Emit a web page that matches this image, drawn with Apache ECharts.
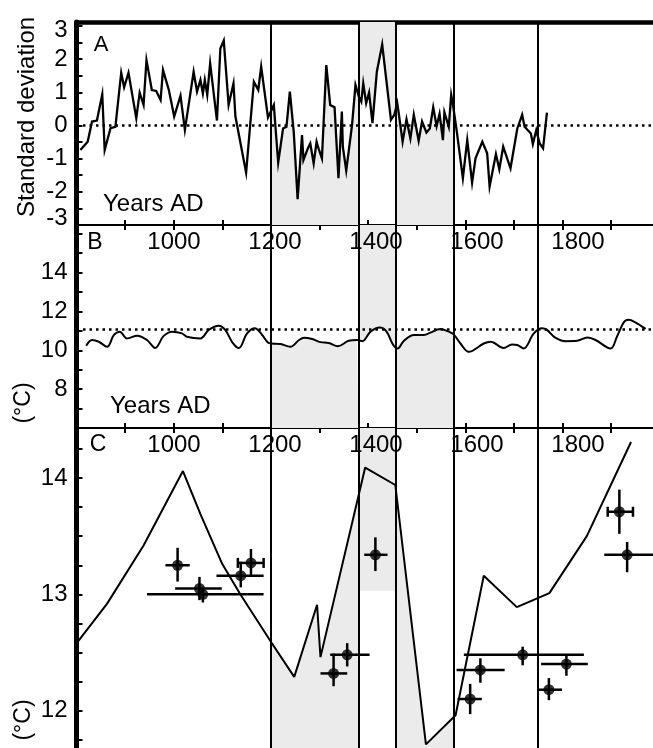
<!DOCTYPE html>
<html><head><meta charset="utf-8">
<script src="https://cdn.jsdelivr.net/npm/echarts@6/dist/echarts.min.js"></script>
<style>html,body{margin:0;padding:0;background:#fff}#c{width:653px;height:748px}</style>
</head><body><div id="c"></div>
<script>
// ---- Panel A: standard deviation series ----
const aYears = [808,823,832,842,853,858,870,880,892,898,907,923,930,938,944,955,964,973,978,990,1001,1014,1023,1041,1048,1055,1060,1064,1069,1075,1089,1096,1103,1113,1123,1127,1149,1165,1174,1180,1194,1206,1215,1225,1232,1239,1247,1255,1264,1267,1276,1281,1288,1294,1298,1305,1314,1322,1331,1339,1346,1348,1355,1367,1374,1381,1386,1390,1396,1402,1409,1418,1429,1447,1454,1460,1463,1471,1479,1487,1494,1504,1511,1520,1527,1534,1541,1547,1554,1557,1566,1571,1575,1583,1595,1604,1614,1621,1635,1645,1650,1663,1670,1678,1693,1707,1717,1722,1735,1739,1746,1753,1760,1768];
const aValues = [-0.74,-0.49,0.12,0.15,0.94,-0.74,-0.08,-0.04,1.59,1.15,1.59,0.22,0.99,0.62,1.97,1.07,1.04,0.77,1.67,1.07,0.27,0.9,-0.13,1.62,1.02,1.37,0.97,1.37,0.92,1.87,0.15,2.32,2.56,0.62,1.27,0.27,-1.42,1.32,1.07,1.77,0.24,0.62,-1.12,-0.09,-0.04,1.02,-0.19,-2.22,-0.29,-1.04,-0.69,-0.54,-1.14,-0.49,-0.69,-0.99,1.82,0.62,0.55,-1.59,0.42,-0.64,-1.36,0.02,1.22,0.87,0.72,1.27,0.67,0.99,0.07,1.62,2.44,0.17,0.32,0.67,0.37,-0.49,0.19,-0.39,0.32,-0.46,0.12,-0.21,-0.09,0.55,-0.02,0.35,-0.44,0.40,-0.04,0.92,0.59,-0.24,-1.59,-0.44,-1.72,-0.99,-0.49,-0.84,-1.84,-0.86,-1.32,-0.64,-1.29,-0.09,0.32,-0.04,-0.24,-0.56,-0.14,-0.54,-0.69,0.39];
const aReference = 0;

// ---- Panel B: temperature (smoothed) ----
const bYears = [820,832,846,863,877,889,904,925,945,962,979,997,1017,1027,1055,1072,1093,1106,1121,1134,1151,1167,1182,1194,1202,1220,1240,1258,1268,1285,1302,1319,1338,1360,1377,1388,1405,1424,1438,1451,1461,1473,1494,1515,1528,1549,1566,1576,1590,1607,1638,1652,1679,1696,1707,1720,1741,1758,1768,1785,1806,1830,1851,1868,1899,1912,1926,1936,1950,1971];
const bValues = [10.23,10.53,10.44,10.18,10.79,10.96,10.61,10.75,10.53,10.12,10.73,10.96,10.87,10.70,10.61,11.05,11.27,11.05,10.40,10.12,10.87,11.13,10.79,10.40,10.35,10.32,10.18,10.53,10.65,10.58,10.42,10.38,10.21,10.49,10.53,10.47,10.96,11.17,10.96,10.30,10.09,10.47,10.79,10.79,10.91,11.10,10.96,10.82,10.35,9.92,10.35,10.44,10.12,10.30,10.27,10.09,10.87,11.13,11.05,10.65,10.47,10.49,10.66,10.53,10.09,10.70,11.44,11.57,11.44,11.10];
const bReference = 11.1;

// ---- Panel C: temperature model line ----
const cYears = [804,863,938,1019,1055,1100,1137,1202,1248,1295,1302,1394,1456,1519,1580,1638,1706,1773,1850,1941];
const cValues = [12.60,12.92,13.42,14.06,13.69,13.26,13.00,12.58,12.29,12.91,12.46,14.09,13.94,11.71,11.96,13.16,12.89,13.01,13.50,14.31];

// ---- Panel C: proxy points with error bars ----
const ptYear   = [1008,1053,1060,1138,1159,1329,1357,1415,1610,1631,1718,1772,1808,1917,1933];
const ptTemp   = [13.25,13.05,13.00,13.16,13.27,12.32,12.48,13.34,12.10,12.35,12.48,12.18,12.40,13.71,13.34];
const ptTempLo = [13.11,12.95,12.93,13.06,13.16,12.21,12.38,13.20,11.97,12.24,12.39,12.09,12.30,13.52,13.19];
const ptTempHi = [13.40,13.15,13.05,13.28,13.39,12.49,12.58,13.49,12.23,12.45,12.55,12.28,12.48,13.90,13.45];
const ptYearLo = [983,1003,945,1088,1132,1302,1322,1392,1584,1582,1597,1749,1756,1893,1886];
const ptYearHi = [1033,1099,1185,1185,1185,1357,1403,1440,1634,1681,1844,1799,1852,1945,1995];
const ptCap    = [0,0,0,0,1,0,0,0,0,0,0,0,0,1,0];

// ---- period boundaries and shading ----
const boundaries = [1200,1380,1457,1576,1750];
const belowSpans = [[1200,1380],[1457,1576]];
const aboveSpans = [[1380,1457]];
const cAboveFloor = 13.03;   // panel C: grey band in the middle period reaches down to here

// ---- tick labels ----
const xTickLabels = [1000,1200,1400,1600,1800];
const aTickLabels = [-3,-2,-1,0,1,2,3];
const bTickLabels = [8,10,12,14];
const cTickLabels = [12,13,14];

const FONT = "'Liberation Sans', Arial, Helvetica, sans-serif";
const GREY = '#ebebeb';
const X_MIN = 800, X_MAX = 2000;

function interp(xs, ys, x){
  for (let i = 0; i < xs.length - 1; i++) {
    if (x >= xs[i] && x <= xs[i+1]) {
      const t = (x - xs[i]) / (xs[i+1] - xs[i]);
      return ys[i] + t * (ys[i+1] - ys[i]);
    }
  }
  return x < xs[0] ? ys[0] : ys[ys.length-1];
}
function clip(xs, ys, a, b){
  const out = [[a, interp(xs, ys, a)]];
  xs.forEach((x, i) => { if (x > a && x < b) out.push([x, ys[i]]); });
  out.push([b, interp(xs, ys, b)]);
  return out;
}
function shade(xi, yi, xs, ys, span, origin){
  return {type:'line', xAxisIndex:xi, yAxisIndex:yi, data:clip(xs, ys, span[0], span[1]),
    symbol:'none', silent:true, z:1, lineStyle:{width:0, opacity:0},
    areaStyle:{color:GREY, opacity:1, origin:origin}};
}
function near(v, list){ return list.some(t => Math.abs(t - v) < 1e-6); }

function xAx(grid, pos, o){
  return Object.assign({type:'value', gridIndex:grid, position:pos, min:X_MIN, max:X_MAX, interval:100,
    splitLine:{show:false},
    axisLine:{show:true, onZero:false, lineStyle:{color:'#000', width:2}},
    axisTick:{show:true, inside:true, length:5, lineStyle:{color:'#000', width:2}},
    axisLabel:{show:false}}, o || {});
}
function labelAx(grid){
  return xAx(grid, 'top', {z:3, axisLine:{show:false, onZero:false}, axisTick:{show:false},
    axisLabel:{show:true, inside:true, margin:5, fontSize:24, fontFamily:FONT, color:'#000',
      formatter: v => near(v, xTickLabels) ? String(Math.round(v)) : ''}});
}
function yAx(grid, min, max, interval, labels, extraLabel, fmt){
  return {type:'value', gridIndex:grid, min:min, max:max, interval:interval, z:4,
    splitLine:{show:false},
    axisLine:{show:true, onZero:false, lineStyle:{color:'#000', width:5}},
    axisTick:{show:true, inside:true, length:6, lineStyle:{color:'#000', width:2}},
    axisLabel:Object.assign({show:true, margin:9, fontSize:24, fontFamily:FONT, color:'#000',
      formatter: fmt || (v => near(v, labels) ? String(Math.round(v)) : '')}, extraLabel || {})};
}
// panel A: the end labels sit slightly inside the panel, as in the original
const aLabelFmt = v => {
  if (!near(v, aTickLabels)) return '';
  const n = Math.round(v);
  if (n === aTickLabels[aTickLabels.length-1]) return '{top|' + n + '}';
  if (n === aTickLabels[0]) return '{bot|' + n + '}';
  return String(n);
};
const aRich = {rich:{
  top:{fontSize:24, fontFamily:FONT, color:'#000', padding:[9,0,0,0]},
  bot:{fontSize:24, fontFamily:FONT, color:'#000', padding:[0,0,14,0]}}};

const vLines = boundaries.map(x => ({xAxis:x, lineStyle:{color:'#000', width:2, type:'solid'}}));
const dotted = {color:'#000', width:2.5, type:[2.5,4]};

const series = [];
// shading
belowSpans.forEach(s => {
  series.push(shade(0, 0, aYears, aValues, s, 'start'));
  series.push(shade(2, 1, bYears, bValues, s, 'start'));
  series.push(shade(4, 2, cYears, cValues, s, 'start'));
});
aboveSpans.forEach(s => {
  series.push(shade(0, 0, aYears, aValues, s, 'end'));
  series.push(shade(2, 1, bYears, bValues, s, 'end'));
  const c = shade(4, 2, cYears, cValues, s, 'end');
  c.markArea = {silent:true, itemStyle:{color:GREY, opacity:1}, label:{show:false},
    data:[[{xAxis:s[0], yAxis:cAboveFloor}, {xAxis:s[1], yAxis:14.43}]]};
  series.push(c);
});
// curves
series.push({type:'line', xAxisIndex:0, yAxisIndex:0, data:aYears.map((y,i)=>[y,aValues[i]]),
  symbol:'none', z:5, lineStyle:{color:'#000', width:2.3, join:'miter'},
  markLine:{symbol:'none', silent:true, label:{show:false}, animation:false,
    data:[...vLines, {yAxis:aReference, lineStyle:dotted}]}});
series.push({type:'line', xAxisIndex:2, yAxisIndex:1, data:bYears.map((y,i)=>[y,bValues[i]]),
  symbol:'none', smooth:0.35, z:5, lineStyle:{color:'#000', width:2},
  markLine:{symbol:'none', silent:true, label:{show:false}, animation:false,
    data:[...vLines, {yAxis:bReference, lineStyle:dotted}]}});
series.push({type:'line', xAxisIndex:4, yAxisIndex:2, data:cYears.map((y,i)=>[y,cValues[i]]),
  symbol:'none', z:5, lineStyle:{color:'#000', width:2},
  markLine:{symbol:'none', silent:true, label:{show:false}, animation:false, data:vLines}});
// error bars
series.push({type:'custom', xAxisIndex:4, yAxisIndex:2, z:6, silent:true,
  data: ptYear.map((y,i)=>[y, ptTemp[i], ptTempLo[i], ptTempHi[i], ptYearLo[i], ptYearHi[i], ptCap[i]]),
  encode:{x:0, y:1},
  renderItem: function(params, api){
    const yr = api.value(0), t = api.value(1);
    const lo = api.coord([yr, api.value(2)]), hi = api.coord([yr, api.value(3)]);
    const l = api.coord([api.value(4), t]), r = api.coord([api.value(5), t]);
    const st = {stroke:'#000', lineWidth:2.5};
    const ch = [
      {type:'line', shape:{x1:lo[0], y1:lo[1], x2:hi[0], y2:hi[1]}, style:st},
      {type:'line', shape:{x1:l[0], y1:l[1], x2:r[0], y2:r[1]}, style:st}
    ];
    if (api.value(6)) {
      ch.push({type:'line', shape:{x1:l[0], y1:l[1]-5, x2:l[0], y2:l[1]+5}, style:st});
      ch.push({type:'line', shape:{x1:r[0], y1:r[1]-5, x2:r[0], y2:r[1]+5}, style:st});
    }
    return {type:'group', children:ch};
  }});
series.push({type:'scatter', xAxisIndex:4, yAxisIndex:2, z:7, symbol:'circle', symbolSize:11,
  itemStyle:{color:'#000'}, data:ptYear.map((y,i)=>[y, ptTemp[i]])});

const txt = (text, x, y, size, rot, align) => ({type:'text', x:x, y:y, rotation:rot||0, z:100,
  style:{text:text, fill:'#000', font:size+'px '+FONT, fontSize:size, fontFamily:FONT,
    align:align||'center', verticalAlign:'middle', textAlign:align||'center', textVerticalAlign:'middle'}});

const G = {outerBoundsMode:'none', containLabel:false};
const option = {
  animation:false,
  backgroundColor:'#fff',
  grid:[
    Object.assign({left:76.5, width:583.2, top:22, height:203}, G),
    Object.assign({left:76.5, width:583.2, top:225, height:203}, G),
    Object.assign({left:76.5, width:583.2, top:428, height:340.8}, G),
    Object.assign({left:73, width:606, top:225, height:203}, G),
    Object.assign({left:73, width:606, top:428, height:340.8}, G)
  ],
  xAxis:[
    xAx(0, 'bottom'),
    xAx(0, 'top', {axisLine:{show:true, onZero:false, lineStyle:{color:'#000', width:4.5}}, axisTick:{show:false}}),
    xAx(1, 'top'),
    xAx(1, 'bottom'),
    xAx(2, 'top'),
    labelAx(3),
    labelAx(4)
  ],
  yAxis:[
    yAx(0, -3, 3.12, 0.5, aTickLabels, aRich, aLabelFmt),
    yAx(1, 6, 16.45, 1, bTickLabels),
    yAx(2, 11.5, 14.43, 0.25, cTickLabels, {verticalAlign:'middle', padding:[0,0,15,0]}),
    {type:'value', gridIndex:3, min:0, max:1, show:false},
    {type:'value', gridIndex:4, min:0, max:1, show:false}
  ],
  series: series,
  graphic:[
    txt('Standard deviation', 27, 117, 24, Math.PI/2),
    txt('(°C)', 24, 403, 23, Math.PI/2),
    txt('(°C)', 24, 720, 23, Math.PI/2),
    txt('A', 101, 45, 22),
    txt('B', 95, 243, 23),
    txt('C', 98, 445, 23),
    txt('Years AD', 103, 204, 24, 0, 'left'),
    txt('Years AD', 110, 406, 24, 0, 'left')
  ]
};
const chart = echarts.init(document.getElementById('c'), null, {renderer:'canvas'});
chart.setOption(option);
</script></body></html>
